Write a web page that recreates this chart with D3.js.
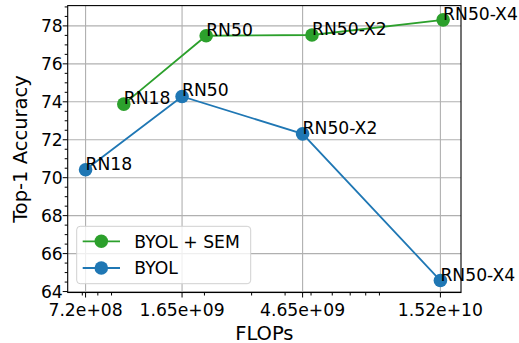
<!DOCTYPE html>
<html>
<head>
<meta charset="utf-8">
<script src="https://cdn.jsdelivr.net/npm/d3@7"></script>
<style>
  html, body { margin: 0; padding: 0; background: #fff; }
  svg { display: block; }
  text { font-family: "DejaVu Sans", sans-serif; fill: #000; }
</style>
</head>
<body>
<svg id="chart" width="519" height="343"></svg>
<script>
// Model names per point
const models = ["RN18", "RN50", "RN50-X2", "RN50-X4"];
// FLOPs of each backbone
const flopsByol = [7.2e8, 1.65e9, 4.65e9, 1.52e10];
const flopsSem = [1.0e9, 2.03e9, 5.04e9, 1.556e10];
// Top-1 accuracy
const accByol = [70.42, 74.28, 72.31, 64.58];
const accSem = [73.88, 77.48, 77.52, 78.32];
// Axis ticks
const xTickValues = [7.2e8, 1.65e9, 4.65e9, 1.52e10];
const xTickLabels = ["7.2e+08", "1.65e+09", "4.65e+09", "1.52e+10"];
const yTickValues = [64, 66, 68, 70, 72, 74, 76, 78];

const series = [
  { name: "BYOL + SEM", color: "#2ca02c", x: flopsSem, y: accSem },
  { name: "BYOL", color: "#1f77b4", x: flopsByol, y: accByol }
];

const svg = d3.select("#chart");
const L = 67.7, R = 461, T = 5.6, B = 292.5;
const FS = 17.2, FL = 19.5;

// log x-extent with 5% padding in log space
const allX = flopsByol.concat(flopsSem);
const lx0 = Math.log10(d3.min(allX)), lx1 = Math.log10(d3.max(allX));
const pad = (lx1 - lx0) * 0.05;
const x = d3.scaleLog().domain([10 ** (lx0 - pad), 10 ** (lx1 + pad)]).range([L, R]);
const y = d3.scaleLinear().domain([63.95, 79.07]).range([B, T]);

// grid
const grid = svg.append("g").attr("stroke", "#b0b0b0").attr("stroke-width", 1.1);
xTickValues.forEach(v => grid.append("line")
  .attr("x1", x(v)).attr("x2", x(v)).attr("y1", T).attr("y2", B));
yTickValues.forEach(v => grid.append("line")
  .attr("x1", L).attr("x2", R).attr("y1", y(v)).attr("y2", y(v)));

// minor ticks
const [d0, d1] = x.domain();
const xMinor = [];
for (let e = Math.floor(Math.log10(d0)); e <= Math.ceil(Math.log10(d1)); e++) {
  for (let m = 2; m <= 9; m++) {
    const v = m * 10 ** e;
    if (v >= d0 && v <= d1) xMinor.push(v);
  }
}
const yMinor = d3.range(64, 79.01, 0.5).filter(v => Math.abs(v % 2) > 1e-6);

const ticks = svg.append("g").attr("stroke", "#000").attr("stroke-width", 1);
xMinor.forEach(v => ticks.append("line")
  .attr("x1", x(v)).attr("x2", x(v)).attr("y1", B).attr("y2", B + 3));
xTickValues.forEach(v => ticks.append("line")
  .attr("x1", x(v)).attr("x2", x(v)).attr("y1", B).attr("y2", B + 5));
yMinor.forEach(v => ticks.append("line")
  .attr("x1", L - 3).attr("x2", L).attr("y1", y(v)).attr("y2", y(v)));
yTickValues.forEach(v => ticks.append("line")
  .attr("x1", L - 5).attr("x2", L).attr("y1", y(v)).attr("y2", y(v)));

// tick labels
xTickValues.forEach((v, i) => svg.append("text")
  .attr("x", x(v)).attr("y", 316.3).attr("text-anchor", "middle")
  .attr("font-size", FS).text(xTickLabels[i]));
yTickValues.forEach(v => svg.append("text")
  .attr("x", 62.8).attr("y", y(v) + 6.3).attr("text-anchor", "end")
  .attr("font-size", FS).text(v));

// axis titles
svg.append("text").attr("x", (L + R) / 2).attr("y", 339.5)
  .attr("text-anchor", "middle").attr("font-size", FL).text("FLOPs");
svg.append("text")
  .attr("transform", `translate(27.3,${(T + B) / 2}) rotate(-90)`)
  .attr("text-anchor", "middle").attr("font-size", FL).text("Top-1 Accuracy");

// lines and markers
const line = d3.line().x(d => x(d[0])).y(d => y(d[1]));
series.forEach(s => {
  const pts = s.x.map((v, i) => [v, s.y[i]]);
  svg.append("path").datum(pts).attr("d", line)
    .attr("fill", "none").attr("stroke", s.color).attr("stroke-width", 1.8);
  svg.append("g").selectAll("circle").data(pts).join("circle")
    .attr("cx", d => x(d[0])).attr("cy", d => y(d[1])).attr("r", 6.8)
    .attr("fill", s.color);
});

// point annotations
series.forEach(s => {
  s.x.forEach((v, i) => svg.append("text")
    .attr("x", x(v)).attr("y", y(s.y[i]))
    .attr("font-size", FS).text(models[i]));
});

// spines
svg.append("rect").attr("x", L).attr("y", T).attr("width", R - L).attr("height", B - T)
  .attr("fill", "none").attr("stroke", "#000").attr("stroke-width", 1.1);

// legend
const lg = svg.append("g");
lg.append("rect").attr("x", 76.7).attr("y", 226.3).attr("width", 174).attr("height", 57.4)
  .attr("rx", 3.5).attr("fill", "#fff").attr("fill-opacity", 0.8)
  .attr("stroke", "#d0d0d0").attr("stroke-width", 1);
series.forEach((s, i) => {
  const cy = 241.3 + i * 26.7;
  lg.append("line").attr("x1", 82.7).attr("x2", 120).attr("y1", cy).attr("y2", cy)
    .attr("stroke", s.color).attr("stroke-width", 1.8);
  lg.append("circle").attr("cx", 101.3).attr("cy", cy).attr("r", 6.8).attr("fill", s.color);
  lg.append("text").attr("x", 134.3).attr("y", cy + 6.3)
    .attr("font-size", FS).text(s.name);
});
</script>
</body>
</html>
